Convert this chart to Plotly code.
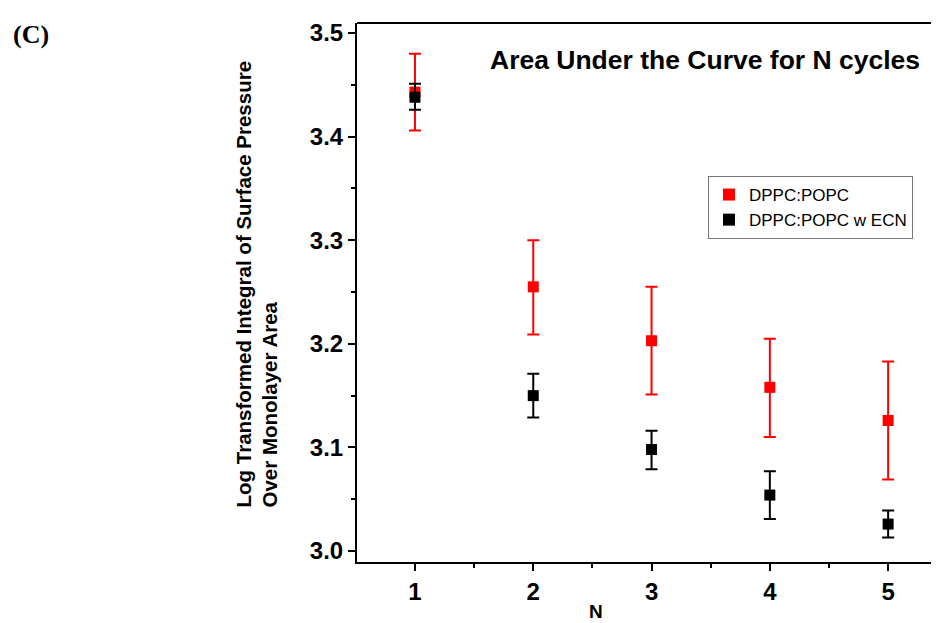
import plotly.graph_objects as go

N = [1, 2, 3, 4, 5]
red_mean = [3.443, 3.255, 3.203, 3.158, 3.126]
red_hi = [3.480, 3.300, 3.255, 3.205, 3.183]
red_lo = [3.406, 3.209, 3.151, 3.110, 3.069]
blk_mean = [3.438, 3.150, 3.098, 3.054, 3.026]
blk_hi = [3.451, 3.171, 3.116, 3.077, 3.039]
blk_lo = [3.426, 3.129, 3.079, 3.031, 3.013]
x_ticks = [1, 2, 3, 4, 5]
y_ticks = [3.0, 3.1, 3.2, 3.3, 3.4, 3.5]

OFF = 8  # page body margin
VW, VH = 939, 623
W, H = VW - OFF, VH - OFF
# plot area in viewport pixels
PL, PR, PT, PB = 357, 939, 23, 562
L, R, T, B = PL - OFF, (OFF + W) - PR, PT - OFF, (OFF + H) - PB

fig = go.Figure()

def add(name, color, mean, hi, lo):
    fig.add_trace(go.Scatter(
        x=N, y=mean, mode="markers", name=name,
        marker=dict(symbol="square", size=11, color=color),
        error_y=dict(type="data", symmetric=False,
                     array=[h - m for h, m in zip(hi, mean)],
                     arrayminus=[m - l for m, l in zip(mean, lo)],
                     color=color, thickness=2, width=6),
    ))

add("DPPC:POPC", "#ff0000", red_mean, red_hi, red_lo)
add("DPPC:POPC w ECN", "#000000", blk_mean, blk_hi, blk_lo)

tickfont = dict(family="Liberation Sans, Arial", size=24, color="black")

def px_x(px):
    return (px - PL) / (PR - PL)

def px_y(py):
    return 1 - (py - PT) / (PB - PT)

fig.update_layout(
    width=W, height=H,
    margin=dict(l=L, r=R, t=T, b=B, pad=0),
    paper_bgcolor="white", plot_bgcolor="white",
    showlegend=True,
    legend=dict(x=px_x(708), y=px_y(176), xanchor="left", yanchor="top",
                bordercolor="#777777", borderwidth=1,
                font=dict(family="Liberation Sans, Arial", size=17, color="black"),
                itemsizing="constant", tracegroupgap=0,
                bgcolor="white"),
    xaxis=dict(range=[0.51, 5.43], tickvals=x_ticks,
               ticktext=["<b>%d</b>" % v for v in x_ticks],
               ticks="outside", ticklen=7, tickwidth=2, tickcolor="black",
               showline=True, linewidth=2, linecolor="black",
               showgrid=False, zeroline=False, tickfont=tickfont,
               minor=dict(ticks="outside", dtick=0.5, tick0=0.5, ticklen=4,
                          tickwidth=2, tickcolor="black", showgrid=False)),
    yaxis=dict(range=[2.9894, 3.5097], tickvals=y_ticks,
               ticktext=["<b>%.1f</b>" % v for v in y_ticks],
               ticks="outside", ticklen=7, tickwidth=2, tickcolor="black",
               showline=True, linewidth=2, linecolor="black",
               showgrid=False, zeroline=False, tickfont=tickfont,
               minor=dict(ticks="outside", dtick=0.05, tick0=3.05, ticklen=4,
                          tickwidth=2, tickcolor="black", showgrid=False)),
)

fig.add_shape(type="line", xref="paper", yref="paper", x0=0, x1=1, y0=1, y1=1,
              line=dict(color="black", width=2))

fig.add_annotation(text="<b>Area Under the Curve for N cycles</b>",
                   xref="paper", yref="paper", x=px_x(922), y=px_y(60),
                   xanchor="right", yanchor="middle", showarrow=False,
                   font=dict(family="Liberation Sans, Arial", size=26.5, color="black"))

fig.add_annotation(text="<b>Log Transformed Integral of Surface Pressure<br>Over Monolayer Area</b>",
                   xref="paper", yref="paper", x=px_x(256), y=px_y(510),
                   xanchor="center", yanchor="bottom", textangle=-90, align="left",
                   showarrow=False,
                   font=dict(family="Liberation Sans, Arial", size=20.5, color="black"))

fig.add_annotation(text="<b>N</b>", xref="paper", yref="paper",
                   x=px_x(596), y=px_y(611), xanchor="center", yanchor="middle",
                   showarrow=False,
                   font=dict(family="Liberation Sans, Arial", size=19, color="black"))

fig.add_annotation(text="<b>(C)</b>", xref="paper", yref="paper",
                   x=px_x(11), y=px_y(34), xanchor="left", yanchor="middle",
                   showarrow=False,
                   font=dict(family="Liberation Serif, Times New Roman", size=26, color="black"))

fig.write_html("out.html")
